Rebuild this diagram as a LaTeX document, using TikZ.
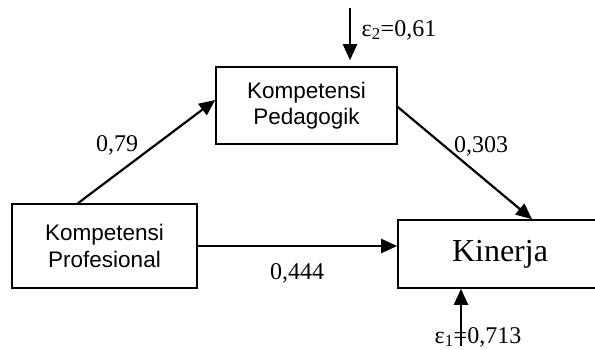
\documentclass[tikz,border=0pt]{standalone}
\usepackage{fontspec}
\setmainfont{Liberation Serif}
\newfontfamily\arialf{Liberation Sans}
\usetikzlibrary{arrows.meta,calc}
\begin{document}
\begin{tikzpicture}[x=1pt,y=-1pt,
  boxA/.style={draw,line width=1.6pt,inner sep=0pt,align=center,font=\arialf\fontsize{22.5}{26.5}\selectfont},
  arr/.style={line width=2.2pt,-{Triangle[length=16pt,width=14pt]}},
  lab/.style={inner sep=0pt,font=\fontsize{24}{26}\selectfont}]
\useasboundingbox (0,0) rectangle (595,350);
\node[boxA,minimum width=181pt,minimum height=77pt] (ped) at (306.5,105.5) {Kompetensi\\Pedagogik};
\node[boxA,minimum width=185pt,minimum height=84pt] (prof) at (104.5,246) {Kompetensi\\Profesional};
\node[draw,line width=1.6pt,inner sep=0pt,minimum width=204pt,minimum height=68pt,font=\fontsize{32}{36}\selectfont] (kin) at (500,254) {Kinerja};
\coordinate (e2) at (350,8);
\coordinate (e1) at (461,346);
\draw[arr] (prof.north -| 78,0) -- (ped.west |- 0,100);
\draw[arr] (ped.east |- 0,107) -- (kin.north -| 532,0);
\draw[arr] (prof.east) -- (kin.west |- prof.east);
\draw[arr,shorten >=6pt] (e2) -- (ped.north -| e2);
\draw[arr] (e1) -- (kin.south -| e1);
\node[lab] (l2) at (399,30) {ε\textsubscript{2}=0,61};
\node[lab] (l79) at (117,145) {0,79};
\node[lab] (l303) at (481,146) {0,303};
\node[lab] (l444) at (297,273) {0,444};
\node[lab] (l1) at (478,337) {ε\textsubscript{1}=0,713};
\end{tikzpicture}
\end{document}
